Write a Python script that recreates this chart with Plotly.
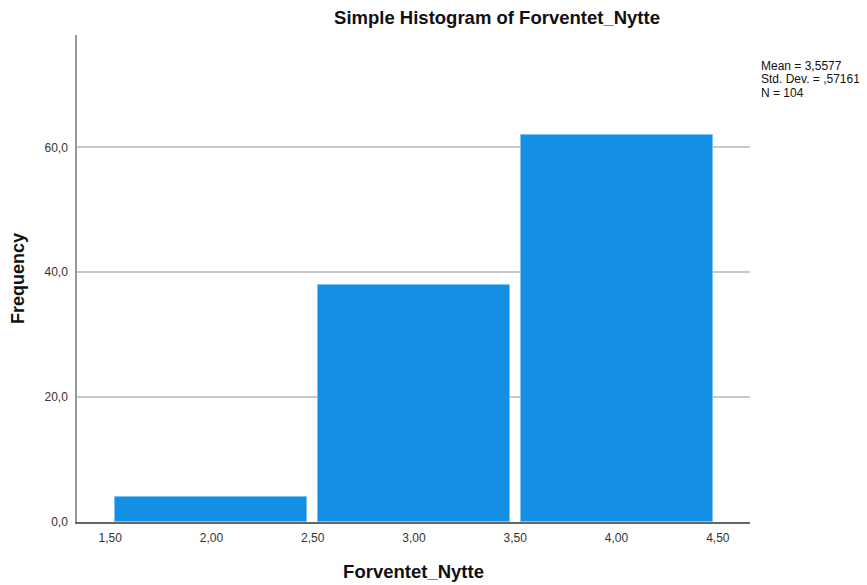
import plotly.graph_objects as go

bin_centers = [2.0, 3.0, 4.0]
frequencies = [4, 38, 62]
x_tick_vals = [1.5, 2.0, 2.5, 3.0, 3.5, 4.0, 4.5]
x_tick_text = ["1,50", "2,00", "2,50", "3,00", "3,50", "4,00", "4,50"]
y_tick_vals = [0, 20, 40, 60]
y_tick_text = ["0,0", "20,0", "40,0", "60,0"]
stats_lines = ["Mean = 3,5577", "Std. Dev. = ,57161", "N = 104"]

# page body has an 8px default margin
OFF = 8
W, H = 859, 577
L, R, T, B = 77 - OFF, 117, 35 - OFF, 63
PW, PH = W - L - R, H - T - B

def px_x(page_x):
    return (page_x - OFF - L) / PW

def px_y(page_y):
    return 1 - (page_y - OFF - T) / PH

fig = go.Figure()
fig.add_trace(go.Bar(
    x=bin_centers, y=frequencies, width=0.948,
    marker=dict(color="#1390E5", line=dict(color="#7CC2F2", width=1)),
))

annotations = []
for i, line in enumerate(stats_lines):
    annotations.append(dict(text=line, xref="paper", yref="paper",
                            x=px_x(759), y=px_y(66 + 13.3 * i),
                            xanchor="left", yanchor="middle", align="left",
                            showarrow=False, font=dict(size=12, color="#111")))

fig.update_layout(
    width=W, height=H,
    margin=dict(l=L, r=R, t=T, b=B, autoexpand=False),
    plot_bgcolor="white", paper_bgcolor="white",
    font=dict(family="Liberation Sans, Arial, sans-serif", color="#222"),
    showlegend=False,
    bargap=0,
    title=dict(text="<b>Simple Histogram of Forventet_Nytte</b>",
               x=(497 - OFF) / W, xanchor="center", y=1 - (18 - OFF) / H,
               yanchor="middle", font=dict(size=18.5, color="#111")),
    xaxis=dict(range=[1.336, 4.659], tickvals=x_tick_vals, ticktext=x_tick_text,
               showgrid=False, zeroline=False, showline=True, linecolor="#666",
               linewidth=1.5, ticks="", ticklabelstandoff=4, automargin=False,
               tickfont=dict(size=12, color="#333"),
               title=dict(text="<b>Forventet_Nytte</b>", font=dict(size=18.5, color="#111"),
                          standoff=21)),
    yaxis=dict(range=[0, 78], tickvals=y_tick_vals, ticktext=y_tick_text,
               showgrid=True, gridcolor="#C8C8C8", gridwidth=1.5, zeroline=False,
               showline=True, linecolor="#999", linewidth=1.5, ticks="",
               ticklabelstandoff=5, automargin=False,
               tickfont=dict(size=12, color="#333"),
               title=dict(text="<b>Frequency</b>", font=dict(size=18, color="#111"),
                          standoff=16)),
    annotations=annotations,
)

fig.write_html("out.html")
